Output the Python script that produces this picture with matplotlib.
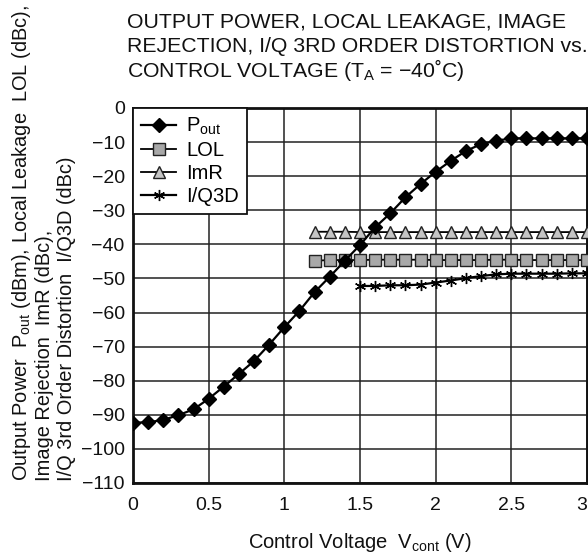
import matplotlib
matplotlib.use('Agg')
import matplotlib.pyplot as plt
import numpy as np

plt.rcParams['font.family'] = ['Liberation Sans', 'DejaVu Sans']
plt.rcParams['mathtext.fontset'] = 'custom'
plt.rcParams['mathtext.rm'] = 'Liberation Sans'
plt.rcParams['axes.unicode_minus'] = True

# control voltage (V)
vcont = [0.0, 0.1, 0.2, 0.3, 0.4, 0.5, 0.6, 0.7, 0.8, 0.9, 1.0,
         1.1, 1.2, 1.3, 1.4, 1.5, 1.6, 1.7, 1.8, 1.9, 2.0,
         2.1, 2.2, 2.3, 2.4, 2.5, 2.6, 2.7, 2.8, 2.9, 3.0]
pout = [-92.3, -92.2, -91.5, -90.1, -88.4, -85.3, -81.7, -78.0, -74.2, -69.4, -64.3,
        -59.5, -54.0, -49.5, -44.8, -40.2, -35.0, -30.9, -26.2, -22.3, -18.7,
        -15.5, -12.6, -10.6, -9.6, -8.9, -8.9, -8.9, -8.9, -8.9, -8.9]

v_hi = vcont[12:]   # 1.2 .. 3.0
lol = [-44.8, -44.6, -44.6, -44.6, -44.5, -44.5, -44.5, -44.5, -44.6, -44.6,
       -44.6, -44.6, -44.5, -44.5, -44.6, -44.6, -44.6, -44.6, -44.6]
imr = [-36.3, -36.3, -36.3, -36.4, -36.4, -36.4, -36.4, -36.4, -36.4, -36.4,
       -36.4, -36.4, -36.4, -36.4, -36.4, -36.4, -36.4, -36.4, -36.4]

v_iq = vcont[15:]   # 1.5 .. 3.0
iq3d = [-52.2, -52.2, -52.0, -52.0, -51.8, -51.2, -50.6, -49.9, -49.3, -48.8,
        -48.6, -48.6, -48.6, -48.6, -48.5, -48.5]

xticks = [0, 0.5, 1, 1.5, 2, 2.5, 3]
xticklabels = ['0', '0.5', '1', '1.5', '2', '2.5', '3']
yticks = [0, -10, -20, -30, -40, -50, -60, -70, -80, -90, -100, -110]

title_lines = ['OUTPUT POWER, LOCAL LEAKAGE, IMAGE',
               'REJECTION, I/Q 3RD ORDER DISTORTION vs.',
               'CONTROL VOLTAGE (T$_{\\mathregular{A}}$ = \u221240\u02daC)']

fig = plt.figure(figsize=(5.88, 5.57), dpi=100)
ax = fig.add_axes([133/588, 1 - 483/557, 454/588, 375/557])

ax.plot(vcont, pout, color='black', lw=1.6, marker='D', ms=7,
        mfc='black', mec='black', label='P$_{\\mathregular{out}}$', zorder=5)
ax.plot(v_hi, lol, color='black', lw=1.3, marker='s', ms=8.5,
        mfc='#a8a8a8', mec='#222222', mew=1.0, label='LOL', zorder=4)
ax.plot(v_hi, imr, color='black', lw=1.3, marker='^', ms=8.5,
        mfc='#c4c4c4', mec='#222222', mew=1.0, label='ImR', zorder=4)
ax.plot(v_iq, iq3d, color='black', lw=1.6, marker=(6, 2, 0), ms=8,
        mec='black', mew=1.0, label='I/Q3D', zorder=4)

ax.set_xlim(0, 3)
ax.set_ylim(-110, 0)
ax.set_xticks(xticks)
# last label is drawn separately so it stays inside the figure
ax.set_xticklabels(xticklabels[:-1] + [''])
ax.annotate(xticklabels[-1], xy=(xticks[-1], 0), xycoords=('data', 'axes fraction'),
            xytext=(0, -10), textcoords='offset points', ha='right', va='top',
            fontsize=14, color='#111111')
ax.set_yticks(yticks)
ax.set_yticklabels(['0'] + ['\u2212%d' % abs(t) for t in yticks[1:]])
ax.tick_params(length=0, labelsize=14, colors='#111111')
ax.tick_params(axis='x', pad=10)
ax.tick_params(axis='y', pad=6)
ax.grid(True, color='#222222', lw=1.1)
ax.set_axisbelow(True)
for sp in ax.spines.values():
    sp.set_linewidth(2.0)
    sp.set_color('#111111')

leg = ax.legend(loc='upper left', bbox_to_anchor=(0, 1), borderaxespad=0,
                fontsize=14.5, frameon=True, fancybox=False, framealpha=1,
                edgecolor='#111111', handlelength=1.75, handletextpad=0.5,
                labelspacing=0.2, borderpad=0.4)
leg.get_frame().set_linewidth(1.3)
leg.set_zorder(10)

ax.set_xlabel('Control Voltage  V$_{\\mathregular{cont}}$ (V)', fontsize=14.5,
              labelpad=12, color='#111111')

fig.text(10/588, 1 - 481/557,
         'Output Power  P$_{\\mathregular{out}}$ (dBm), Local Leakage  LOL (dBc),\n'
         'Image Rejection  ImR (dBc),\n'
         'I/Q 3rd Order Distortion  I/Q3D (dBc)',
         rotation=90, ha='left', va='bottom', multialignment='left',
         fontsize=14.4, linespacing=1.15, color='#111111')

for i, line in enumerate(title_lines):
    fig.text(127/588, 1 - (27 + 25 * i)/557, line,
             ha='left', va='baseline', fontsize=15.3, color='#111111')

fig.savefig('out.png', dpi=100)
